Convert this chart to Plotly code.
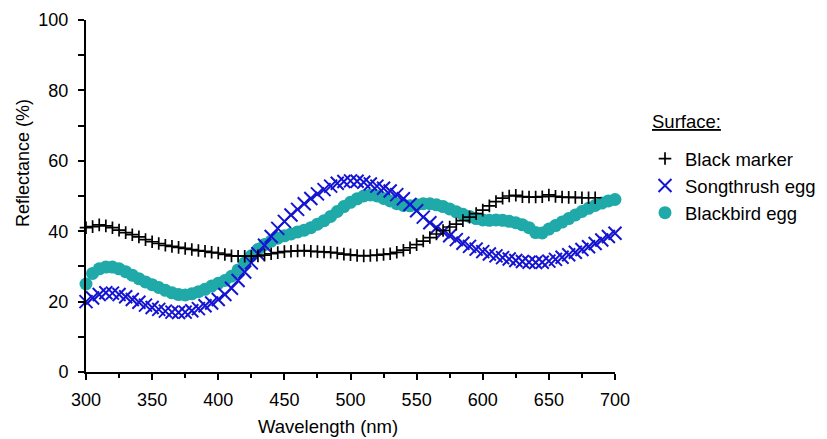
import plotly.graph_objects as go

# Reflectance spectra (% reflectance vs wavelength in nm)
wl_marker = list(range(300, 690, 5))
black_marker = [
    41.0, 41.3, 41.8, 41.5, 41.0, 40.3, 39.6, 39.0, 38.4, 37.6,
    37.0, 36.5, 36.0, 35.7, 35.4, 35.1, 34.8, 34.5, 34.3, 34.0,
    33.8, 33.4, 33.0, 32.9, 32.9, 32.9, 33.0, 33.2, 33.6, 33.9,
    34.2, 34.3, 34.4, 34.5, 34.3, 34.2, 34.1, 34.0, 33.8, 33.5,
    33.3, 33.1, 33.0, 33.1, 33.2, 33.4, 33.6, 34.0, 34.6, 35.3,
    36.2, 37.2, 38.2, 39.2, 40.2, 41.2, 42.0, 43.0, 44.0, 45.0,
    46.0, 47.2, 48.4, 49.4, 50.0, 50.2, 49.8, 49.7, 49.7, 49.8,
    50.3, 49.9, 49.7, 49.6, 49.6, 49.5, 49.5, 49.5,
]

wl_egg = list(range(300, 705, 5))
songthrush_egg = [
    20.0, 21.0, 22.0, 22.5, 22.4, 22.0, 21.4, 20.6, 19.8, 19.0,
    18.3, 17.8, 17.3, 17.0, 16.9, 17.0, 17.4, 18.0, 18.8, 19.6,
    20.6, 22.0, 23.8, 26.0, 28.4, 31.0, 33.6, 36.0, 38.5, 40.8,
    42.8, 44.6, 46.2, 47.8, 49.3, 50.6, 51.8, 52.8, 53.6, 54.1,
    54.3, 54.2, 53.9, 53.4, 52.8, 52.2, 51.4, 50.4, 49.2, 47.6,
    45.8, 44.0, 42.4, 41.0, 39.8, 38.7, 37.6, 36.6, 35.7, 34.9,
    34.2, 33.5, 33.0, 32.5, 32.1, 31.7, 31.4, 31.2, 31.1, 31.2,
    31.5, 32.0, 32.6, 33.3, 34.0, 34.8, 35.6, 36.5, 37.5, 38.5,
    39.4,
]
blackbird_egg = [
    25.0, 28.0, 29.3, 29.8, 29.8, 29.3, 28.5, 27.5, 26.5, 25.6,
    24.8, 24.0, 23.2, 22.5, 22.0, 21.9, 22.2, 22.8, 23.5, 24.4,
    25.2, 26.0, 27.2, 29.0, 31.0, 33.0, 34.8, 36.2, 37.2, 38.0,
    38.7, 39.2, 39.8, 40.3, 41.0, 42.0, 43.0, 44.2, 45.6, 47.0,
    48.2, 49.2, 50.0, 50.3, 50.0, 49.3, 48.6, 47.8, 47.3, 47.2,
    47.5, 47.8, 47.8, 47.5, 47.0, 46.3, 45.5, 44.8, 44.2, 43.6,
    43.2, 43.1, 43.2, 43.1, 42.8, 42.4, 41.8, 41.0, 39.6, 39.5,
    40.6, 41.6, 42.6, 43.6, 44.6, 45.6, 46.5, 47.3, 48.0, 48.6,
    49.0,
]

x_ticks = [300, 350, 400, 450, 500, 550, 600, 650, 700]
y_ticks = [0, 20, 40, 60, 80, 100]

FONT = "Arial, Liberation Sans, sans-serif"
TEAL = "#1fa9a9"
BLUE = "#1414d2"

# plot area in pixels: x 86..615, y 20..372
PX_L, PX_R, PX_T, PX_B = 86, 615, 20, 372


def px_x(p):
    return (p - PX_L) / (PX_R - PX_L)


def px_y(p):
    return (PX_B - p) / (PX_B - PX_T)


fig = go.Figure()

fig.add_trace(go.Scatter(
    x=wl_egg, y=blackbird_egg, mode="markers", name="Blackbird egg",
    marker=dict(symbol="circle", size=13, color=TEAL, line=dict(width=0)),
    cliponaxis=False,
))
fig.add_trace(go.Scatter(
    x=wl_egg, y=songthrush_egg, mode="markers", name="Songthrush egg",
    marker=dict(symbol="x-thin-open", size=13, color=BLUE,
                line=dict(width=2, color=BLUE)),
    cliponaxis=False,
))
fig.add_trace(go.Scatter(
    x=wl_marker, y=black_marker, mode="markers", name="Black marker",
    marker=dict(symbol="cross-thin-open", size=9, color="black",
                line=dict(width=1.7, color="black")),
    cliponaxis=False,
))

axis_common = dict(
    showline=True, linecolor="black", linewidth=2,
    ticks="outside", tickcolor="black", tickwidth=1.5, ticklen=6,
    showgrid=False, zeroline=False, automargin=False,
    tickfont=dict(family=FONT, size=18, color="black"),
)

fig.update_xaxes(
    range=[300, 700], tickvals=x_ticks, ticktext=[str(v) for v in x_ticks],
    minor=dict(dtick=25, ticks="outside", ticklen=4, tickwidth=1.5, tickcolor="black"),
    ticklabelstandoff=4,
    **axis_common,
)
fig.update_yaxes(
    range=[0, 100], tickvals=y_ticks, ticktext=[str(v) for v in y_ticks],
    minor=dict(dtick=10, ticks="outside", ticklen=6, tickwidth=1.5, tickcolor="black"),
    ticklabelstandoff=6,
    **axis_common,
)

fig.add_annotation(
    text="Wavelength (nm)", xref="paper", yref="paper",
    x=px_x(328), y=px_y(426), xanchor="center", yanchor="middle",
    showarrow=False, font=dict(family=FONT, size=18.5, color="black"),
)
fig.add_annotation(
    text="Reflectance (%)", xref="paper", yref="paper",
    x=px_x(23), y=px_y(163), xanchor="center", yanchor="middle",
    textangle=-90, showarrow=False,
    font=dict(family=FONT, size=18, color="black"),
)
fig.add_annotation(
    text="<u>Surface:</u>", xref="paper", yref="paper",
    x=px_x(650), y=px_y(121), xanchor="left", yanchor="middle",
    showarrow=False, font=dict(family=FONT, size=18.5, color="black"),
)

fig.update_layout(
    width=827, height=439,
    margin=dict(l=PX_L, r=827 - PX_R, t=PX_T, b=439 - PX_B, autoexpand=False),
    paper_bgcolor="white", plot_bgcolor="white",
    showlegend=True,
    legend=dict(
        x=px_x(645), y=px_y(140), xanchor="left", yanchor="top",
        traceorder="reversed", bgcolor="rgba(0,0,0,0)",
        font=dict(family=FONT, size=18.5, color="black"),
        itemwidth=30,
    ),
)

fig.write_html("out.html")
